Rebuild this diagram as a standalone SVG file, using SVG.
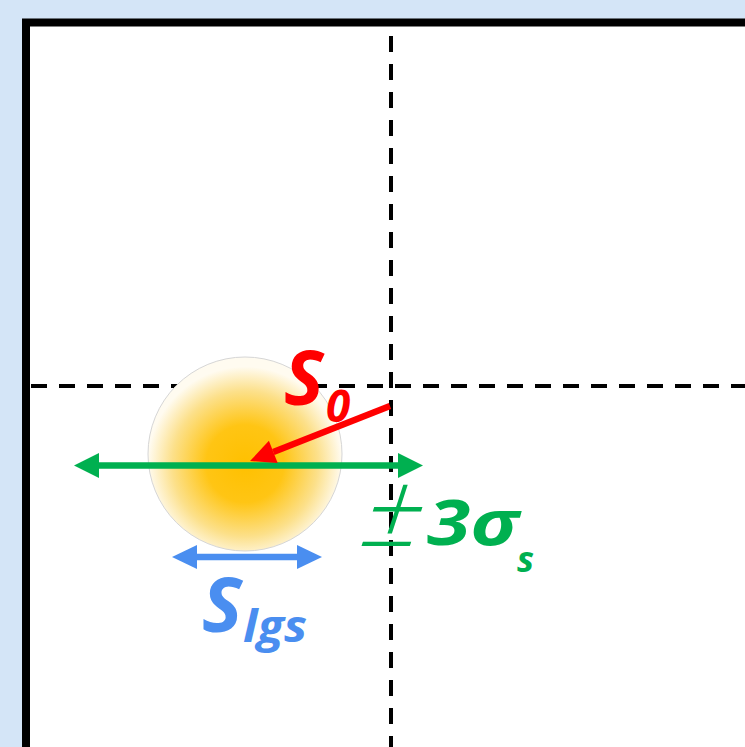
<svg xmlns="http://www.w3.org/2000/svg" width="745" height="747" viewBox="0 0 745 747">
<style>
.lbl{font-family:"Open Sans","Liberation Sans",sans-serif;font-weight:bold;font-style:italic}
.dash{stroke:#000;stroke-width:4;stroke-dasharray:16 12;fill:none}
</style>
<defs>
<radialGradient id="glow" cx="0.5" cy="0.55" r="0.5">
<stop offset="0" stop-color="#FFC000"/>
<stop offset="0.4" stop-color="#FFC514"/>
<stop offset="0.75" stop-color="#FCE08A"/>
<stop offset="1" stop-color="#FFFBF0"/>
</radialGradient>
<marker id="hg" viewBox="-1 -13 27 26" refX="0" refY="0" markerWidth="27" markerHeight="26" markerUnits="userSpaceOnUse" orient="auto-start-reverse"><path d="M0,-12.5 L25,0 L0,12.5 z" fill="#00B050"/></marker>
<marker id="hb" viewBox="-1 -13 27 26" refX="0" refY="0" markerWidth="27" markerHeight="26" markerUnits="userSpaceOnUse" orient="auto-start-reverse"><path d="M0,-12 L25,0 L0,12 z" fill="#4A8EF0"/></marker>
<marker id="hr" viewBox="-1 -13 27 26" refX="0" refY="0" markerWidth="27" markerHeight="26" markerUnits="userSpaceOnUse" orient="auto"><path d="M0,-12 L25,0 L0,12 z" fill="#FF0000"/></marker>
</defs>
<rect width="745" height="747" fill="#D4E5F7"/>
<rect x="26" y="22.5" width="760" height="760" fill="#FFFFFF" stroke="#000" stroke-width="8"/>
<g id="axes">
<line class="dash" x1="391" y1="36" x2="391" y2="747"/>
<line class="dash" x1="30" y1="386" x2="745" y2="386" stroke-dashoffset="-1"/>
</g>
<g id="spot">
<circle cx="245" cy="454" r="97" fill="url(#glow)" stroke="#D6D6D6" stroke-width="1"/>
</g>
<g id="connectors">
<line x1="99" y1="465.5" x2="398" y2="465.5" stroke="#00B050" stroke-width="6.5" marker-start="url(#hg)" marker-end="url(#hg)"/>
<line x1="197" y1="557" x2="297" y2="557" stroke="#4A8EF0" stroke-width="6.5" marker-start="url(#hb)" marker-end="url(#hb)"/>
<line x1="390" y1="406" x2="273.3" y2="451.9" stroke="#FF0000" stroke-width="6.5" marker-end="url(#hr)"/>
</g>
<g id="label-s0" fill="#FF0000">
<text class="lbl" x="284" y="405" font-size="75">S</text>
<text class="lbl" x="326" y="422" font-size="44">0</text>
</g>
<g id="label-sigma" fill="#00B050">
<text transform="translate(356,546) skewX(-18)" font-size="104" font-family="Open Sans, Liberation Sans, sans-serif" font-weight="300">±</text>
<text class="lbl" x="427" y="545" font-size="62" textLength="92" lengthAdjust="spacingAndGlyphs">3σ</text>
<text class="lbl" x="517" y="572" font-size="36">s</text>
</g>
<g id="label-slgs" fill="#4A8EF0">
<text class="lbl" x="202" y="632" font-size="76">S</text>
<text class="lbl" x="243" y="642" font-size="45" textLength="64" lengthAdjust="spacingAndGlyphs">lgs</text>
</g>
</svg>
